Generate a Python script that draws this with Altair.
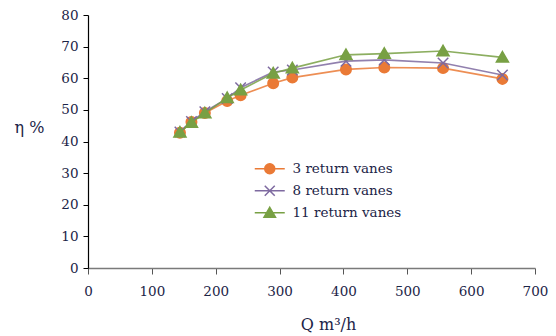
import altair as alt
import pandas as pd

# Data
q = [144, 162, 183, 218, 239, 290, 320, 404, 464, 556, 649]
eta_3 = [42.8, 46.2, 49.0, 52.8, 54.6, 58.4, 60.2, 62.8, 63.4, 63.2, 59.8]
eta_8 = [43.0, 46.3, 49.4, 53.6, 57.0, 62.0, 62.6, 65.4, 65.8, 64.8, 61.0]
eta_11 = [42.9, 46.0, 49.0, 53.8, 56.3, 61.6, 63.2, 67.4, 67.8, 68.6, 66.6]
series = ["3 return vanes", "8 return vanes", "11 return vanes"]
colors = ["#EA7A36", "#7E6AA0", "#78A044"]
x_ticks = [0, 100, 200, 300, 400, 500, 600, 700]
y_ticks = [0, 10, 20, 30, 40, 50, 60, 70, 80]

FONT = "DejaVu Serif"
TXT = "#1c2447"

circle = "M1,0A1,1,0,1,1,-1,0A1,1,0,1,1,1,0Z"
xpath = "M-1,-1L1,1M-1,1L1,-1"
tri = "M0,-1.1L1.15,0.9L-1.15,0.9Z"
shapes_pts = [circle, xpath, tri]
leg_line = "M-3,0H3"


def x_enc():
    return alt.X("Q:Q", scale=alt.Scale(domain=[0, 700], nice=False, zero=False),
                 axis=alt.Axis(values=x_ticks, title="Q  m³/h", grid=False,
                               domainColor="#7a7a7a", domainWidth=1.5,
                               tickColor="#555555", tickSize=6, labelOverlap=False,
                               labelFlush=False,
                               labelPadding=10, labelColor=TXT, titleColor=TXT,
                               titleX=240, titleY=56, titleBaseline="middle"))


def y_enc():
    return alt.Y("eta:Q", scale=alt.Scale(domain=[0, 80], nice=False, zero=False),
                 axis=alt.Axis(values=y_ticks, title="η %", grid=False,
                               domainColor="#000000", domainWidth=1.2,
                               tickColor="#000000", tickSize=5, labelOverlap=False,
                               labelFlush=False,
                               labelPadding=5, labelColor=TXT, titleColor=TXT,
                               titleAngle=0, titleAlign="center", titleBaseline="middle",
                               titleX=-59, titleY=112))


layers = []
for i, (name, vals) in enumerate(zip(series, [eta_3, eta_8, eta_11])):
    df = pd.DataFrame({"Q": q, "eta": vals, "series": name})
    base = alt.Chart(df)
    line = base.mark_line(strokeWidth=1.6, opacity=0.85, color=colors[i]).encode(
        x=x_enc(), y=y_enc())
    pts = base.mark_point(filled=True, size=110, strokeWidth=1.5, opacity=1).encode(
        x=x_enc(), y=y_enc(),
        stroke=alt.value(colors[i]),
        shape=alt.value(shapes_pts[i]),
        color=alt.Color("series:N",
                        scale=alt.Scale(domain=[name], range=[colors[i]]),
                        legend=alt.Legend(
                            orient="none", legendX=175, legendY=147 + 22 * i,
                            title=None, labelColor=TXT, symbolSize=100,
                            symbolType=leg_line + shapes_pts[i],
                            symbolStrokeColor=colors[i],
                            symbolFillColor=colors[i],
                            symbolStrokeWidth=1.5, symbolOpacity=1,
                            labelOffset=16, symbolOffset=0)),
    )
    layers.append(line)
    layers.append(pts)

chart = alt.layer(*layers).resolve_scale(color="independent").properties(
    width=447, height=253,
    autosize=alt.AutoSizeParams(type="none"),
    padding={"left": 88, "top": 15, "right": 21, "bottom": 68},
    background="white",
).configure_view(stroke=None).configure_axis(
    labelFont=FONT, labelFontSize=13.5, titleFont=FONT, titleFontSize=16,
    titleFontWeight="normal"
).configure_legend(labelFont=FONT, labelFontSize=13.5)

chart.save("out.html", embed_options={"renderer": "svg", "actions": False})
